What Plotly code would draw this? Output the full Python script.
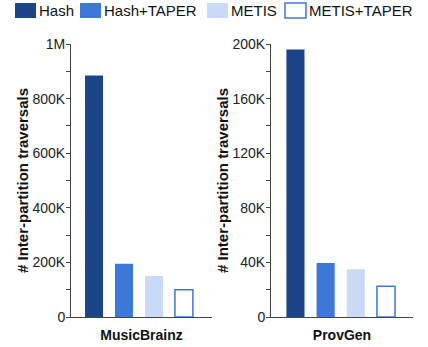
import plotly.graph_objects as go

# Inter-partition traversal counts per partitioning strategy
methods = ["Hash", "Hash+TAPER", "METIS", "METIS+TAPER"]
datasets = ["MusicBrainz", "ProvGen"]
musicbrainz_values = [885000, 195000, 150000, 100000]
provgen_values = [196000, 39500, 35000, 22500]

mb_tickvals = [0, 200000, 400000, 600000, 800000, 1000000]
mb_ticktext = ["0", "200K", "400K", "600K", "800K", "1M"]
pg_tickvals = [0, 40000, 80000, 120000, 160000, 200000]
pg_ticktext = ["0", "40K", "80K", "120K", "160K", "200K"]

fill_colors = ["#1c4587", "#3c78d8", "#c9daf8", "#ffffff"]
line_colors = ["#1c4587", "#3c78d8", "#c9daf8", "#3c78d8"]
line_widths = [0, 0, 0, 1.5]

W, H = 428, 347
FONT = "Liberation Sans, Arial, sans-serif"

fig = go.Figure()

for i, m in enumerate(methods):
    marker = dict(color=fill_colors[i], line=dict(color=line_colors[i], width=line_widths[i]))
    fig.add_trace(go.Bar(x=[datasets[0]], y=[musicbrainz_values[i]], name=m,
                         marker=marker, xaxis="x", yaxis="y", showlegend=False))
    fig.add_trace(go.Bar(x=[datasets[1]], y=[provgen_values[i]], name=m,
                         marker=marker, xaxis="x2", yaxis="y2", showlegend=False))

# Compact legend row across the top: swatch immediately followed by its label
legend_swatch_x = [15, 80, 207, 285]
swatch_w, swatch_top, swatch_bottom = 21, 3, 18
for i, m in enumerate(methods):
    x0 = legend_swatch_x[i]
    fig.add_shape(type="rect", xref="paper", yref="paper",
                  x0=x0 / W, x1=(x0 + swatch_w) / W,
                  y0=1 - swatch_bottom / H, y1=1 - swatch_top / H,
                  fillcolor=fill_colors[i],
                  line=dict(color=line_colors[i], width=line_widths[i] if line_widths[i] else 0))
    fig.add_annotation(text=m, xref="paper", yref="paper",
                       x=(x0 + swatch_w + 1) / W, y=1 - 10.5 / H,
                       xanchor="left", yanchor="middle", showarrow=False,
                       font=dict(family=FONT, size=15, color="#111"))

axis_common = dict(showline=True, linecolor="#444", linewidth=1, showgrid=False,
                   zeroline=False, automargin=False)
x_title_font = dict(family=FONT, size=14, color="#111")
y_title_font = dict(family=FONT, size=15, color="#111")
tick_font = dict(family=FONT, size=14, color="#222")
y_domain = [1 - 317 / H, 1 - 44 / H]

fig.update_layout(
    width=W, height=H,
    margin=dict(l=0, r=0, t=0, b=0, autoexpand=False),
    paper_bgcolor="white", plot_bgcolor="white",
    barmode="group", bargap=0.15, bargroupgap=0.4,
    font=dict(family=FONT, color="#111"),
    showlegend=False,
    xaxis=dict(domain=[71 / W, 212 / W], anchor="y", range=[-0.482, 0.518],
               showticklabels=False, ticks="",
               title=dict(text="<b>MusicBrainz</b>", font=x_title_font, standoff=13),
               **axis_common),
    yaxis=dict(domain=y_domain, anchor="x", range=[0, 1000000],
               tickvals=mb_tickvals, ticktext=mb_ticktext, ticks="outside", ticklen=4,
               tickcolor="#444", tickfont=tick_font, ticklabelstandoff=-2,
               minor=dict(dtick=100000, ticks="outside", ticklen=4, tickcolor="#444"),
               title=dict(text="<b># Inter-partition traversals</b>", font=y_title_font, standoff=0),
               **axis_common),
    xaxis2=dict(domain=[271 / W, 413 / W], anchor="y2", range=[-0.491, 0.509],
                showticklabels=False, ticks="",
                title=dict(text="<b>ProvGen</b>", font=x_title_font, standoff=13),
                **axis_common),
    yaxis2=dict(domain=y_domain, anchor="x2", range=[0, 200000],
                tickvals=pg_tickvals, ticktext=pg_ticktext, ticks="outside", ticklen=4,
                tickcolor="#444", tickfont=tick_font, ticklabelstandoff=-2,
                minor=dict(dtick=20000, ticks="outside", ticklen=4, tickcolor="#444"),
                title=dict(text="<b># Inter-partition traversals</b>", font=y_title_font, standoff=0),
                **axis_common),
)

fig.write_html("out.html")
